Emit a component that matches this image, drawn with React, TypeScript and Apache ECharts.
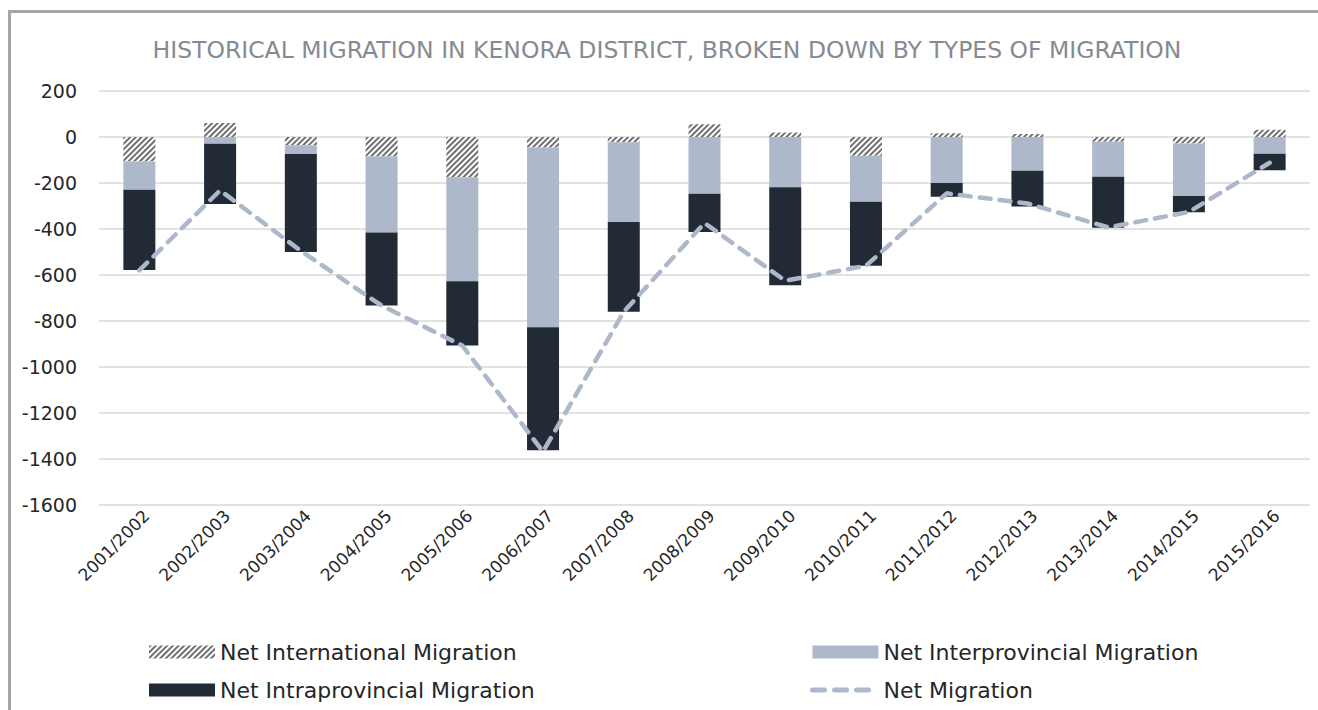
import React, { useEffect, useRef } from "react";
import * as echarts from "echarts";

const categories = [
  "2001/2002", "2002/2003", "2003/2004", "2004/2005", "2005/2006",
  "2006/2007", "2007/2008", "2008/2009", "2009/2010", "2010/2011",
  "2011/2012", "2012/2013", "2013/2014", "2014/2015", "2015/2016",
];
const international = [-106, 61, -36, -84, -175, -46, -23, 55, 20, -82, 16, 13, -21, -28, 31];
const interprovincial = [-123, -29, -38, -331, -452, -781, -347, -247, -219, -200, -200, -147, -152, -228, -73];
const intraprovincial = [-349, -262, -426, -318, -280, -535, -390, -166, -426, -278, -60, -155, -222, -71, -72];
const netMigration = [-580, -232, -495, -733, -907, -1368, -760, -374, -625, -560, -245, -289, -393, -326, -112];

const FONT = "DejaVu Sans";

export default function App() {
  const ref = useRef<HTMLDivElement>(null);
  useEffect(() => {
    if (!ref.current) return;
    const chart = echarts.init(ref.current, undefined, { renderer: "svg" });
    const hatch = {
      symbol: "rect",
      symbolSize: 1,
      color: "#707070",
      backgroundColor: "#ffffff",
      dashArrayX: [1, 0],
      dashArrayY: [2, 1.5],
      rotation: -Math.PI / 4,
    };
    const legendText = { fontFamily: FONT, fontSize: 22, color: "#262626" };
    chart.setOption({
      animation: false,
      backgroundColor: "#ffffff",
      title: {
        text: "HISTORICAL MIGRATION IN KENORA DISTRICT, BROKEN DOWN BY TYPES OF MIGRATION",
        left: 662,
        textAlign: "center",
        top: 33,
        textStyle: { fontFamily: FONT, fontSize: 23.5, fontWeight: "normal", color: "#858b93" },
      },
      graphic: [
        {
          type: "rect",
          shape: { x: 9.5, y: 11.5, width: 1330, height: 720 },
          style: { fill: "none", stroke: "#a5a5a5", lineWidth: 3 },
          silent: true,
        },
      ],
      legend: [
        {
          orient: "vertical",
          left: 144,
          top: 636,
          itemWidth: 66,
          itemHeight: 13,
          itemGap: 16,
          textStyle: legendText,
          data: [
            { name: "Net International Migration", icon: "rect" },
            { name: "Net Intraprovincial Migration", icon: "rect" },
          ],
        },
        {
          orient: "vertical",
          left: 805,
          top: 636,
          itemWidth: 66,
          itemHeight: 13,
          itemGap: 16,
          textStyle: legendText,
          data: [
            { name: "Net Interprovincial Migration", icon: "rect" },
            {
              name: "Net Migration",
              itemStyle: { opacity: 0 },
              lineStyle: { width: 5, type: [12, 10], cap: "round", color: "#adb9ca" },
            },
          ],
        },
      ],
      grid: { left: 99, right: 8, top: 91, bottom: 205 },
      xAxis: {
        type: "category",
        data: categories,
        axisLine: { show: false },
        axisTick: { show: false },
        axisLabel: {
          rotate: 45,
          interval: 0,
          margin: 15,
          padding: [0, -10, 0, 0],
          fontFamily: FONT,
          fontSize: 17,
          color: "#262626",
        },
      },
      yAxis: {
        type: "value",
        min: -1600,
        max: 200,
        interval: 200,
        axisLine: { show: false },
        axisTick: { show: false },
        splitLine: { lineStyle: { color: "#d9d9d9", width: 1.5 } },
        axisLabel: {
          fontFamily: FONT,
          fontSize: 19,
          color: "#262626",
          margin: 22,
          formatter: (v: number) => String(v),
        },
      },
      series: [
        {
          name: "Net International Migration",
          type: "bar",
          stack: "m",
          barWidth: 32,
          data: international,
          itemStyle: { color: "#ffffff", decal: hatch },
        },
        {
          name: "Net Interprovincial Migration",
          type: "bar",
          stack: "m",
          barWidth: 32,
          data: interprovincial,
          itemStyle: { color: "#adb9ca" },
        },
        {
          name: "Net Intraprovincial Migration",
          type: "bar",
          stack: "m",
          barWidth: 32,
          data: intraprovincial,
          itemStyle: { color: "#222a35" },
        },
        {
          name: "Net Migration",
          type: "line",
          data: netMigration,
          symbol: "none",
          showSymbol: false,
          z: 5,
          lineStyle: { color: "#adb9ca", width: 4.5, type: [11, 9], cap: "round" },
          itemStyle: { color: "#adb9ca" },
        },
      ],
    });
    return () => chart.dispose();
  }, []);
  return (
    <div
      ref={ref}
      style={{ position: "fixed", left: 0, top: 0, width: 1318, height: 710 }}
    />
  );
}
